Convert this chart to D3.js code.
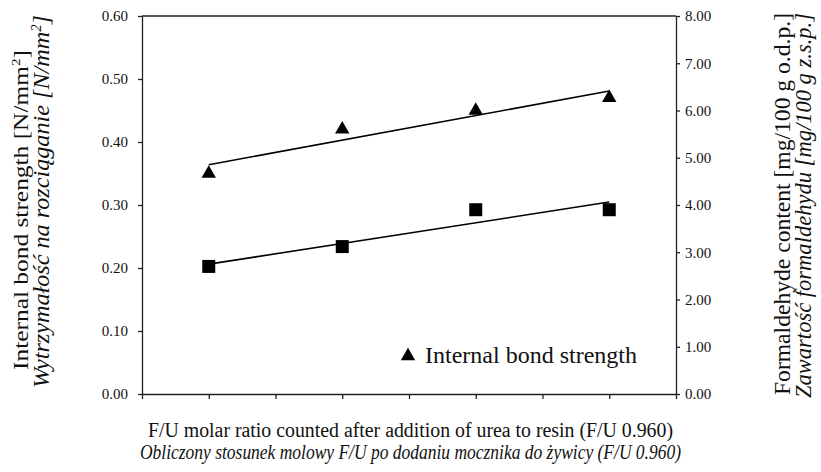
<!DOCTYPE html>
<html>
<head>
<meta charset="utf-8">
<script src="https://cdn.jsdelivr.net/npm/d3@7"></script>
<style>
  body { margin: 0; background: #fff; }
  text { font-family: "Liberation Serif", "Times New Roman", serif; fill: #111; }
  .axis path, .axis line { stroke: #222; stroke-width: 1.3; }
  .axis text { font-size: 15px; }
</style>
</head>
<body>
<div id="chart"></div>
<script>
// positions on the x axis (no labels drawn in the original)
var xPos = [1, 3, 5, 7];
var bondStrength = [0.35, 0.42, 0.45, 0.47];      // N/mm2, left axis
var formaldehyde = [2.70, 3.12, 3.90, 3.90];      // mg/100 g, right axis
var leftTicks = [0, 0.1, 0.2, 0.3, 0.4, 0.5, 0.6];
var rightTicks = [0, 1, 2, 3, 4, 5, 6, 7, 8];
var xTicks = [0, 1, 2, 3, 4, 5, 6, 7, 8];

var margin = {top: 16, right: 145, bottom: 78, left: 142};
var width = 821 - margin.left - margin.right;
var height = 472 - margin.top - margin.bottom;

var x = d3.scaleLinear().domain([0, 8]).range([0, width]);
var yL = d3.scaleLinear().domain([0, 0.6]).range([height, 0]);
var yR = d3.scaleLinear().domain([0, 8]).range([height, 0]);

var svg = d3.select('#chart').append('svg')
  .attr('width', 821)
  .attr('height', 472);

var g = svg.append('g')
  .attr('transform', 'translate(' + margin.left + ',' + margin.top + ')');

var xAxis = d3.axisBottom(x).tickValues(xTicks).tickFormat('').tickSizeInner(5).tickSizeOuter(0);
var yAxis = d3.axisLeft(yL).tickValues(leftTicks).tickFormat(d3.format('.2f')).tickSizeInner(4).tickSizeOuter(0).tickPadding(10);
var yRightAxis = d3.axisRight(yR).tickValues(rightTicks).tickFormat(d3.format('.2f')).tickSizeInner(4).tickSizeOuter(0).tickPadding(5);

g.append('g')
  .attr('class', 'y axis')
  .call(yAxis);

g.append('g')
  .attr('class', 'y axis')
  .attr('transform', 'translate(' + width + ',0)')
  .call(yRightAxis);

g.append('g')
  .attr('class', 'x axis')
  .attr('transform', 'translate(0,' + height + ')')
  .call(xAxis);

// top border of the plot area
g.append('line')
  .attr('x1', 0).attr('x2', width)
  .attr('y1', 0).attr('y2', 0)
  .attr('stroke', '#222').attr('stroke-width', 1.3);

// least squares trendline
function trend(xs, ys) {
  var mx = d3.mean(xs), my = d3.mean(ys);
  var num = d3.sum(xs, function(d, i) { return (d - mx) * (ys[i] - my); });
  var den = d3.sum(xs, function(d) { return (d - mx) * (d - mx); });
  var b = num / den, a = my - b * mx;
  var x0 = d3.min(xs), x1 = d3.max(xs);
  return [[x0, a + b * x0], [x1, a + b * x1]];
}

var line = function(ys) {
  return d3.line().x(function(d) { return x(d[0]); }).y(function(d) { return ys(d[1]); });
};

g.append('path')
  .datum(trend(xPos, bondStrength))
  .attr('fill', 'none').attr('stroke', '#000').attr('stroke-width', 1.6)
  .attr('d', line(yL));

g.append('path')
  .datum(trend(xPos, formaldehyde))
  .attr('fill', 'none').attr('stroke', '#000').attr('stroke-width', 1.6)
  .attr('d', line(yR));

var tri = d3.symbol().type(d3.symbolTriangle).size(90);
var sq = d3.symbol().type(d3.symbolSquare).size(169);

g.selectAll('.tri')
  .data(xPos)
  .enter().append('path')
  .attr('class', 'tri')
  .attr('d', tri)
  .attr('fill', '#000')
  .attr('transform', function(d, i) { return 'translate(' + x(d) + ',' + yL(bondStrength[i]) + ')'; });

g.selectAll('.sq')
  .data(xPos)
  .enter().append('path')
  .attr('class', 'sq')
  .attr('d', sq)
  .attr('fill', '#000')
  .attr('transform', function(d, i) { return 'translate(' + x(d) + ',' + yR(formaldehyde[i]) + ')'; });

// legend
var legend = svg.append('g')
  .attr('transform', 'translate(408,356)');
legend.append('path').attr('d', tri).attr('fill', '#000');
legend.append('text')
  .attr('x', 17).attr('y', 7)
  .style('font-size', '24px')
  .text('Internal bond strength');

// axis titles
var leftTitle = svg.append('text')
  .attr('transform', 'rotate(-90)');
leftTitle.append('tspan').attr('x', -370).attr('y', 28)
  .attr('textLength', 320).attr('lengthAdjust', 'spacingAndGlyphs')
  .style('font-size', '22px')
  .html('Internal bond strength [N/mm<tspan dy="-8" style="font-size:13px">2</tspan><tspan dy="8">]</tspan>');
leftTitle.append('tspan').attr('x', -388).attr('y', 49)
  .attr('textLength', 373).attr('lengthAdjust', 'spacingAndGlyphs')
  .style('font-size', '23px').style('font-style', 'italic')
  .html('Wytrzymałość na rozciąganie [N/mm<tspan dy="-8" style="font-size:14px">2</tspan><tspan dy="8">]</tspan>');

var rightTitle = svg.append('text')
  .attr('transform', 'rotate(-90)')
  .style('font-size', '23px');
rightTitle.append('tspan').attr('x', -395).attr('y', 790)
  .attr('textLength', 382).attr('lengthAdjust', 'spacingAndGlyphs')
  .text('Formaldehyde content [mg/100 g o.d.p.]');
rightTitle.append('tspan').attr('x', -398).attr('y', 811).style('font-style', 'italic')
  .attr('textLength', 385).attr('lengthAdjust', 'spacingAndGlyphs')
  .text('Zawartość formaldehydu [mg/100 g z.s.p.]');

svg.append('text')
  .attr('x', 148).attr('y', 437)
  .attr('textLength', 525).attr('lengthAdjust', 'spacingAndGlyphs')
  .style('font-size', '20px')
  .text('F/U molar ratio counted after addition of urea to resin (F/U 0.960)');

svg.append('text')
  .attr('x', 140).attr('y', 459)
  .attr('textLength', 541).attr('lengthAdjust', 'spacingAndGlyphs')
  .style('font-size', '20.5px').style('font-style', 'italic')
  .text('Obliczony stosunek molowy F/U po dodaniu mocznika do żywicy (F/U 0.960)');
</script>
</body>
</html>
